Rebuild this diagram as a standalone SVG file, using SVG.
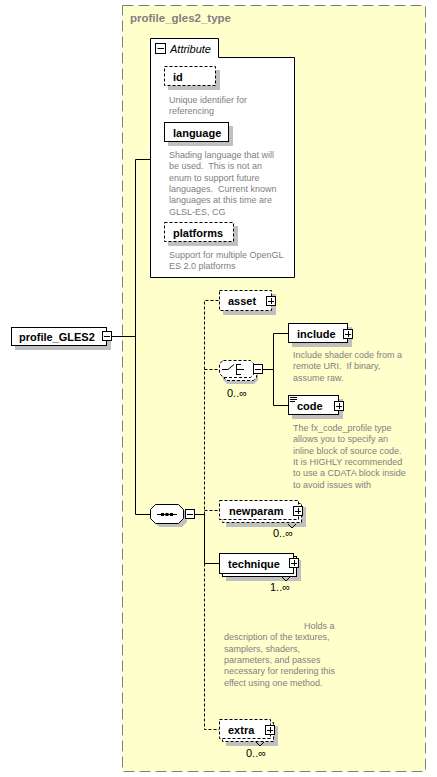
<svg xmlns="http://www.w3.org/2000/svg" width="437" height="777" viewBox="0 0 437 777">
<style>
.bx{fill:#fff;stroke:#000;stroke-width:1}
.dsh{stroke-dasharray:3,2}
.sh{fill:#c0c0c0}
.nm{font-family:"Liberation Sans",Arial,sans-serif;font-size:11px;font-weight:bold;fill:#000}
.ds{font-family:"Liberation Sans",Arial,sans-serif;font-size:9px;fill:#808080;white-space:pre}
.mult{font-family:"Liberation Sans",Arial,sans-serif;font-size:11px;fill:#000}
.ic{fill:#fff;stroke:#000;stroke-width:1}
.icl{stroke:#000;stroke-width:1;fill:none}
.cn{stroke:#000;stroke-width:1;fill:none}
</style>
<defs>
<g id="minus"><rect class="ic" x="0.5" y="0.5" width="9" height="9"/><path class="icl" d="M2,5.5H8"/></g>
<g id="plus"><rect class="ic" x="0.5" y="0.5" width="9" height="9"/><path class="icl" d="M2,5.5H8M5.5,2V8"/></g>
</defs>

<g id="type-box">
<rect x="122.5" y="5.5" width="303" height="766" fill="#ffffcc" stroke="#808080" stroke-dasharray="11,5"/>
<text x="130" y="22" font-family="Liberation Sans,Arial,sans-serif" font-size="11.5" font-weight="bold" fill="#808080">profile_gles2_type</text>
</g>

<g id="connectors">
<path class="cn" d="M112,336.5H135.5M135.5,159.5V514.5M135.5,159.5H150.5M135.5,514.5H150"/>
<path class="cn" d="M195,514.5H204.5V563.5H219"/>
<path class="cn dsh" d="M204.5,514.5V300.5H219M204.5,369.5H219M204.5,510.5H219M204.5,563.5V729.5H219"/>
<path class="cn" d="M263,369.5H273.5M273.5,333.5V405.5M273.5,333.5H288M273.5,405.5H288"/>
</g>

<g id="profile_GLES2">
<rect class="sh" x="15" y="331" width="96" height="19"/>
<rect class="bx" x="11.5" y="327.5" width="95" height="18"/>
<text class="nm" x="19" y="341">profile_GLES2</text>
<use href="#minus" x="102" y="331"/>
</g>

<g id="attributes">
<path class="bx" d="M150.5,277.5V38.5H218.5V57.5H294.5V277.5Z"/>
<rect class="ic" x="155.5" y="43.5" width="10" height="10"/><path class="icl" d="M157.5,48.5H164"/>
<text x="170" y="53" font-family="Liberation Sans,Arial,sans-serif" font-size="11" font-style="italic" fill="#000">Attribute</text>
</g>

<g id="attr-id">
<rect class="sh" x="168" y="70" width="52" height="20"/>
<rect class="bx dsh" x="164.5" y="66.5" width="51" height="19"/>
<text class="nm" x="173" y="80.5">id</text>
<text class="ds" x="169" y="103">Unique identifier for</text>
<text class="ds" x="169" y="114">referencing</text>
</g>

<g id="attr-language">
<rect class="sh" x="168" y="126" width="65" height="20"/>
<rect class="bx" x="164.5" y="122.5" width="64" height="19"/>
<text class="nm" x="173" y="136.5">language</text>
<text class="ds" x="169" y="158">Shading language that will</text>
<text class="ds" x="169" y="169.3">be used.  This is not an</text>
<text class="ds" x="169" y="180.6">enum to support future</text>
<text class="ds" x="169" y="191.9">languages.  Current known</text>
<text class="ds" x="169" y="203.2">languages at this time are</text>
<text class="ds" x="169" y="214.5">GLSL-ES, CG</text>
</g>

<g id="attr-platforms">
<rect class="sh" x="168" y="226" width="70" height="20"/>
<rect class="bx dsh" x="164.5" y="222.5" width="69" height="19"/>
<text class="nm" x="173" y="236.5">platforms</text>
<text class="ds" x="169" y="258">Support for multiple OpenGL</text>
<text class="ds" x="169" y="269.3">ES 2.0 platforms</text>
</g>

<g id="sequence">
<path class="sh" d="M159,508H182L187,513V522L182,527H159L154,522V513Z"/>
<path class="bx" d="M155.5,504.5H178.5L183.5,509.5V518.5L178.5,523.5H155.5L150.5,518.5V509.5Z"/>
<path class="icl" d="M157,514.5H177"/>
<rect x="161" y="513" width="3" height="3" fill="#000"/>
<rect x="165.5" y="513" width="3" height="3" fill="#000"/>
<rect x="170" y="513" width="3" height="3" fill="#000"/>
<use href="#minus" x="185" y="509"/>
</g>

<g id="asset">
<rect class="sh" x="223" y="294" width="53" height="21"/>
<rect class="bx dsh" x="219.5" y="290.5" width="52" height="20"/>
<text class="nm" x="228" y="305">asset</text>
<use href="#plus" x="266" y="296"/>
</g>

<g id="choice">
<path class="sh" d="M227,367H254L258,371V380L254,384H227L223,380V371Z"/>
<path class="bx dsh" d="M226.5,363.5H253.5L256.5,366.5V377.5L253.5,380.5H226.5L222.5,376.5V366.5Z"/>
<path class="bx dsh" d="M223.5,360.5H250.5L253.5,363.5V374.5L250.5,377.5H223.5L219.5,373.5V363.5Z"/>
<path class="icl" d="M222,369.5H228L234,364.5M236.5,364V375M236.5,364.5H241M236.5,369.5H244M236.5,374.5H241"/>
<use href="#minus" x="253" y="364"/>
<text class="mult" x="227" y="397">0..∞</text>
</g>

<g id="include">
<rect class="sh" x="292" y="327" width="60" height="20"/>
<rect class="bx" x="288.5" y="323.5" width="59" height="19"/>
<text class="nm" x="297" y="338">include</text>
<use href="#plus" x="343" y="329"/>
<text class="ds" x="293" y="358">Include shader code from a</text>
<text class="ds" x="293" y="369.3">remote URI.  If binary,</text>
<text class="ds" x="293" y="380.6">assume raw.</text>
</g>

<g id="code">
<rect class="sh" x="292" y="399" width="51" height="20"/>
<rect class="bx" x="288.5" y="395.5" width="50" height="19"/>
<path class="icl" d="M290,397.5H297M290,399.5H297M290,401.5H295"/>
<text class="nm" x="297" y="410">code</text>
<use href="#plus" x="334" y="401"/>
<text class="ds" x="293" y="431">The fx_code_profile type</text>
<text class="ds" x="293" y="442.3">allows you to specify an</text>
<text class="ds" x="293" y="453.6">inline block of source code.</text>
<text class="ds" x="293" y="464.9">It is HIGHLY recommended</text>
<text class="ds" x="293" y="476.2">to use a CDATA block inside</text>
<text class="ds" x="293" y="487.5">to avoid issues with</text>
</g>

<g id="newparam">
<rect class="sh" x="226" y="507" width="80" height="20"/>
<rect class="bx dsh" x="222.5" y="503.5" width="79" height="19"/>
<rect class="bx dsh" x="219.5" y="500.5" width="79" height="19"/>
<path class="icl" d="M288,524L292,528L296,524"/>
<text class="nm" x="229" y="515">newparam</text>
<use href="#plus" x="293" y="506"/>
<text class="mult" x="273" y="537">0..∞</text>
</g>

<g id="technique">
<rect class="sh" x="226" y="560" width="75" height="21"/>
<rect class="bx" x="222.5" y="556.5" width="74" height="20"/>
<rect class="bx" x="219.5" y="553.5" width="74" height="20"/>
<path class="icl" d="M282,577L286,581L290,577"/>
<text class="nm" x="228" y="568">technique</text>
<use href="#plus" x="289" y="558"/>
<text class="mult" x="270" y="591">1..∞</text>
<text class="ds" x="304" y="629">Holds a</text>
<text class="ds" x="224" y="640.3">description of the textures,</text>
<text class="ds" x="224" y="651.6">samplers, shaders,</text>
<text class="ds" x="224" y="662.9">parameters, and passes</text>
<text class="ds" x="224" y="674.2">necessary for rendering this</text>
<text class="ds" x="224" y="685.5">effect using one method.</text>
</g>

<g id="extra">
<rect class="sh" x="226" y="726" width="52" height="20"/>
<rect class="bx dsh" x="222.5" y="722.5" width="51" height="19"/>
<rect class="bx dsh" x="219.5" y="719.5" width="51" height="19"/>
<path class="icl" d="M256,742L260,746L264,742"/>
<text class="nm" x="228" y="734">extra</text>
<use href="#plus" x="265" y="725"/>
<text class="mult" x="246" y="757">0..∞</text>
</g>
</svg>
